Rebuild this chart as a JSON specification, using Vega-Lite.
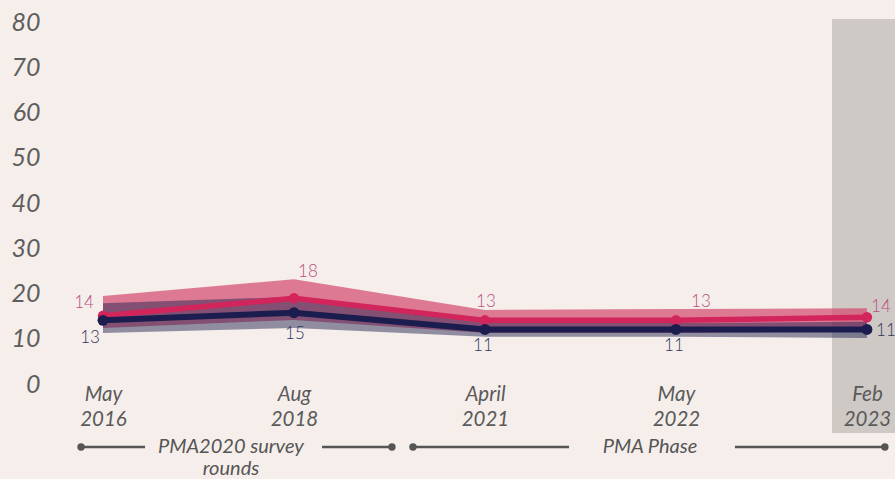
{
  "$schema": "https://vega.github.io/schema/vega-lite/v6.json",
  "width": 845,
  "height": 362,
  "autosize": "none",
  "padding": {"left": 50, "top": 19, "right": 0, "bottom": 98},
  "background": "#f5eeeb",
  "config": {"view": {"stroke": null}, "font": "Lato"},
  "datasets": {
    "survey": [
      {"idx": 0, "round": "May 2016", "pink": 14.4, "pink_lo": 11.7, "pink_hi": 18.8, "navy": 13.4, "navy_lo": 10.6, "navy_hi": 17.2},
      {"idx": 1, "round": "Aug 2018", "pink": 18.3, "pink_lo": 13.5, "pink_hi": 22.5, "navy": 15.1, "navy_lo": 11.7, "navy_hi": 18.6},
      {"idx": 2, "round": "April 2021", "pink": 13.4, "pink_lo": 10.6, "pink_hi": 15.7, "navy": 11.4, "navy_lo": 9.8, "navy_hi": 12.8},
      {"idx": 3, "round": "May 2022", "pink": 13.4, "pink_lo": 10.6, "pink_hi": 15.9, "navy": 11.4, "navy_lo": 9.8, "navy_hi": 12.8},
      {"idx": 4, "round": "Feb 2023", "pink": 14.1, "pink_lo": 11.0, "pink_hi": 16.1, "navy": 11.4, "navy_lo": 9.5, "navy_hi": 13.1}
    ],
    "highlight": [{"x1": 3.817, "x2": 4.147, "y1": 80, "y2": -11.5}],
    "segments": [
      {"x1": -0.115, "x2": 0.22, "y": -14.6},
      {"x1": 1.147, "x2": 1.513, "y": -14.6},
      {"x1": 1.623, "x2": 2.44, "y": -14.6},
      {"x1": 3.309, "x2": 4.094, "y": -14.6}
    ],
    "dots": [
      {"x": -0.115, "y": -14.6},
      {"x": 1.513, "y": -14.6},
      {"x": 1.623, "y": -14.6},
      {"x": 4.094, "y": -14.6}
    ],
    "notes": [
      {"x": 0.67, "y": -14.6, "text": "PMA2020 survey"},
      {"x": 0.67, "y": -19.4, "text": "rounds"},
      {"x": 2.864, "y": -14.6, "text": "PMA Phase"}
    ]
  },
  "resolve": {"scale": {"x": "shared", "y": "shared"}},
  "layer": [
    {
      "data": {"name": "highlight"},
      "mark": {"type": "rect", "color": "#cfc9c6", "clip": false},
      "encoding": {
        "x": {"field": "x1", "type": "quantitative", "scale": {"domain": [-0.2775, 4.147], "nice": false, "zero": false},
          "axis": {"values": [0, 1, 2, 3, 4], "title": null, "domain": false, "ticks": false, "tickSize": 0, "grid": false,
            "labelExpr": "[['May','2016'],['Aug','2018'],['April','2021'],['May','2022'],['Feb','2023']][datum.value]",
            "labelFont": "Lato", "labelFontStyle": "italic", "labelFontSize": 20.5, "labelColor": "#5a5a5a",
            "labelLineHeight": 25, "labelPadding": 3, "labelBaseline": "top", "labelFlush": false, "labelOverlap": false, "zindex": 1}},
        "x2": {"field": "x2"},
        "y": {"field": "y1", "type": "quantitative", "scale": {"domain": [0, 80], "nice": false},
          "axis": {"values": [0, 10, 20, 30, 40, 50, 60, 70, 80], "title": null, "domain": false, "ticks": false, "tickSize": 0, "grid": false,
            "labelFont": "Lato", "labelFontStyle": "italic", "labelFontSize": 25, "labelColor": "#5e5e5e", "labelPadding": 10, "labelOffset": 3, "zindex": 1}},
        "y2": {"field": "y2"}
      }
    },
    {
      "data": {"name": "survey"},
      "mark": {"type": "area", "color": "#d4476f", "opacity": 0.7},
      "encoding": {
        "x": {"field": "idx", "type": "quantitative"},
        "y": {"field": "pink_lo", "type": "quantitative"},
        "y2": {"field": "pink_hi"}
      }
    },
    {
      "data": {"name": "survey"},
      "mark": {"type": "area", "color": "#1e1f4e", "opacity": 0.47},
      "encoding": {
        "x": {"field": "idx", "type": "quantitative"},
        "y": {"field": "navy_lo", "type": "quantitative"},
        "y2": {"field": "navy_hi"}
      }
    },
    {
      "data": {"name": "survey"},
      "mark": {"type": "line", "color": "#d2255b", "strokeWidth": 5.5, "point": {"filled": true, "size": 110, "color": "#d2255b", "opacity": 1}},
      "encoding": {
        "x": {"field": "idx", "type": "quantitative"},
        "y": {"field": "pink", "type": "quantitative"}
      }
    },
    {
      "data": {"name": "survey"},
      "mark": {"type": "line", "color": "#1b1d4f", "strokeWidth": 6, "point": {"filled": true, "size": 120, "color": "#1b1d4f", "opacity": 1}},
      "encoding": {
        "x": {"field": "idx", "type": "quantitative"},
        "y": {"field": "navy", "type": "quantitative"}
      }
    },
    {"data": {"name": "survey"}, "transform": [{"filter": "datum.idx == 0"}],
      "mark": {"type": "text", "font": "Lato", "fontWeight": 300, "fontSize": 17, "color": "#b9507e", "dx": -19, "dy": -13},
      "encoding": {"x": {"field": "idx", "type": "quantitative"}, "y": {"field": "pink", "type": "quantitative"}, "text": {"field": "pink", "format": ".0f"}}},
    {"data": {"name": "survey"}, "transform": [{"filter": "datum.idx == 1"}],
      "mark": {"type": "text", "font": "Lato", "fontWeight": 300, "fontSize": 17, "color": "#b9507e", "dx": 14, "dy": -26},
      "encoding": {"x": {"field": "idx", "type": "quantitative"}, "y": {"field": "pink", "type": "quantitative"}, "text": {"field": "pink", "format": ".0f"}}},
    {"data": {"name": "survey"}, "transform": [{"filter": "datum.idx == 2"}],
      "mark": {"type": "text", "font": "Lato", "fontWeight": 300, "fontSize": 17, "color": "#b9507e", "dx": 1, "dy": -18},
      "encoding": {"x": {"field": "idx", "type": "quantitative"}, "y": {"field": "pink", "type": "quantitative"}, "text": {"field": "pink", "format": ".0f"}}},
    {"data": {"name": "survey"}, "transform": [{"filter": "datum.idx == 3"}],
      "mark": {"type": "text", "font": "Lato", "fontWeight": 300, "fontSize": 17, "color": "#b9507e", "dx": 25, "dy": -18},
      "encoding": {"x": {"field": "idx", "type": "quantitative"}, "y": {"field": "pink", "type": "quantitative"}, "text": {"field": "pink", "format": ".0f"}}},
    {"data": {"name": "survey"}, "transform": [{"filter": "datum.idx == 4"}],
      "mark": {"type": "text", "font": "Lato", "fontWeight": 300, "fontSize": 17, "color": "#b9507e", "dx": 14, "dy": -10},
      "encoding": {"x": {"field": "idx", "type": "quantitative"}, "y": {"field": "pink", "type": "quantitative"}, "text": {"field": "pink", "format": ".0f"}}},
    {"data": {"name": "survey"}, "transform": [{"filter": "datum.idx == 0"}],
      "mark": {"type": "text", "font": "Lato", "fontWeight": 300, "fontSize": 17, "color": "#33355c", "dx": -13, "dy": 18},
      "encoding": {"x": {"field": "idx", "type": "quantitative"}, "y": {"field": "navy", "type": "quantitative"}, "text": {"field": "navy", "format": ".0f"}}},
    {"data": {"name": "survey"}, "transform": [{"filter": "datum.idx == 1"}],
      "mark": {"type": "text", "font": "Lato", "fontWeight": 300, "fontSize": 17, "color": "#33355c", "dx": 1, "dy": 21},
      "encoding": {"x": {"field": "idx", "type": "quantitative"}, "y": {"field": "navy", "type": "quantitative"}, "text": {"field": "navy", "format": ".0f"}}},
    {"data": {"name": "survey"}, "transform": [{"filter": "datum.idx == 2 || datum.idx == 3"}],
      "mark": {"type": "text", "font": "Lato", "fontWeight": 300, "fontSize": 17, "color": "#33355c", "dx": -2, "dy": 17},
      "encoding": {"x": {"field": "idx", "type": "quantitative"}, "y": {"field": "navy", "type": "quantitative"}, "text": {"field": "navy", "format": ".0f"}}},
    {"data": {"name": "survey"}, "transform": [{"filter": "datum.idx == 4"}],
      "mark": {"type": "text", "font": "Lato", "fontWeight": 300, "fontSize": 17, "color": "#33355c", "dx": 19, "dy": 2},
      "encoding": {"x": {"field": "idx", "type": "quantitative"}, "y": {"field": "navy", "type": "quantitative"}, "text": {"field": "navy", "format": ".0f"}}},
    {
      "data": {"name": "segments"},
      "mark": {"type": "rule", "color": "#555555", "strokeWidth": 2.5, "clip": false},
      "encoding": {
        "x": {"field": "x1", "type": "quantitative"},
        "x2": {"field": "x2"},
        "y": {"field": "y", "type": "quantitative"}
      }
    },
    {
      "data": {"name": "dots"},
      "mark": {"type": "point", "filled": true, "color": "#555555", "size": 55, "opacity": 1, "clip": false},
      "encoding": {
        "x": {"field": "x", "type": "quantitative"},
        "y": {"field": "y", "type": "quantitative"}
      }
    },
    {
      "data": {"name": "notes"},
      "mark": {"type": "text", "font": "Lato", "fontStyle": "italic", "fontSize": 20, "color": "#555555", "baseline": "middle", "clip": false},
      "encoding": {
        "x": {"field": "x", "type": "quantitative"},
        "y": {"field": "y", "type": "quantitative"},
        "text": {"field": "text"}
      }
    }
  ]
}
